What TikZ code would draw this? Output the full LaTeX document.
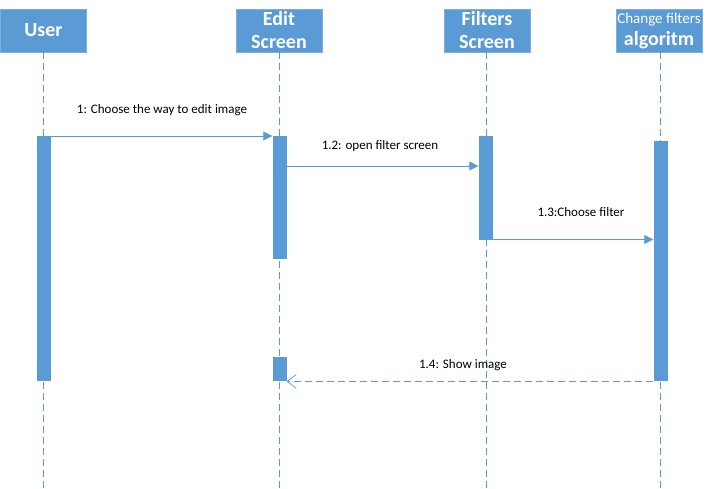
\documentclass[tikz,border=0pt]{standalone}
\usepackage{fontspec}
\setmainfont{Carlito}
\usetikzlibrary{arrows.meta}
\definecolor{ob}{HTML}{5B9BD5}
\begin{document}
\begin{tikzpicture}[x=1pt,y=-1pt,
  head/.style={fill=ob,draw=ob!80!white,line width=0.6pt,minimum width=86pt,minimum height=43pt,text=white,font=\bfseries\fontsize{20}{23}\selectfont,align=center,inner sep=0pt},
  act/.style={fill=ob,draw=none,minimum width=14pt,inner sep=0pt},
  life/.style={draw=ob,dash pattern=on 7pt off 4pt,line width=0.7pt},
  msg/.style={draw=ob,line width=0.8pt,-{Triangle[length=9pt,width=9pt]}},
  ret/.style={draw=ob,line width=0.8pt,dash pattern=on 7pt off 4pt,-{Straight Barb[length=9pt,width=14pt,line width=0.7pt]}},
  lbl/.style={font=\fontsize{13}{15}\selectfont,inner sep=0pt}]
\useasboundingbox (0,0) rectangle (709,489);
% headers
\node[head] (hu) at (43.5,30.5) {User};
\node[head] (he) at (279,30.5) {Edit\\Screen};
\node[head] (hf) at (487,30.5) {Filters\\Screen};
\node[head] (hc) at (659,30.5) {{\mdseries\fontsize{15}{17}\selectfont Change filters}\\[-1pt]algoritm};
% lifelines
\coordinate (lu) at (43.5,489);
\coordinate (le) at (279.5,489);
\coordinate (lf) at (486,489);
\coordinate (lc) at (660,489);
\draw[life] (hu.south -| lu) -- (lu);
\draw[life] (he.south -| le) -- (le);
\draw[life] (hf.south -| lf) -- (lf);
\draw[life] (hc.south -| lc) -- (lc);
% activations
\node[act,minimum height=245pt,anchor=north] (au) at (43.5,136) {};
\node[act,minimum height=123pt,anchor=north] (ae1) at (279.5,136) {};
\node[act,minimum height=24pt,anchor=north] (ae2) at (279.5,357) {};
\node[act,minimum height=104pt,anchor=north] (af) at (485.5,136) {};
\node[act,minimum height=240pt,anchor=north] (ac) at (660.5,141) {};
% messages
\draw[msg] (au.north east) -- (ae1.north west);
\node[lbl] (l1) at (162,110) {1: Choose the way to edit image};
\coordinate (m2s) at (ae1.east |- 0,166);
\coordinate (m2e) at (af.west |- 0,166);
\draw[msg] (m2s) -- (m2e);
\node[lbl] (l2) at (380,146) {1.2: open filter screen};
\coordinate (m3s) at (af.east |- 0,239.5);
\coordinate (m3e) at (ac.west |- 0,239.5);
\draw[msg] (m3s) -- (m3e);
\node[lbl] (l3) at (581,212) {1.3:Choose filter};
\draw[ret] (ac.south west) -- (ae2.south east);
\node[lbl] (l4) at (463,365) {1.4: Show image};
\end{tikzpicture}
\end{document}
